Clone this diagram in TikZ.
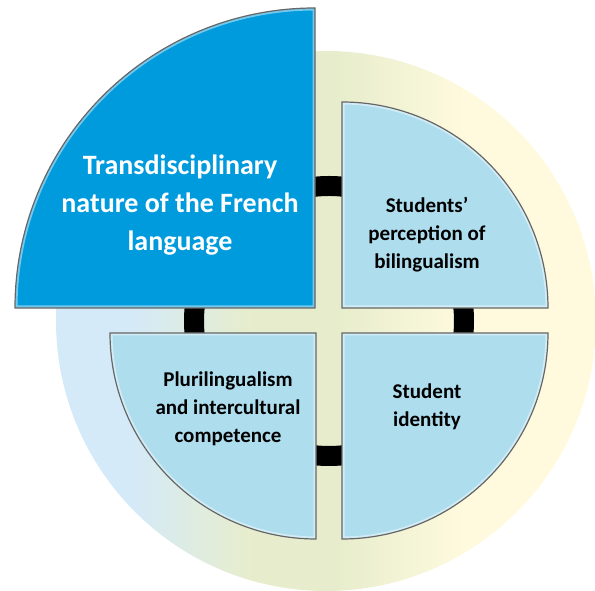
\documentclass[tikz,border=0pt]{standalone}
\usepackage{fontspec}
\setmainfont{Carlito}
\definecolor{deepblue}{RGB}{0,155,221}
\definecolor{paleblue}{RGB}{174,221,238}
\definecolor{bgblue}{RGB}{212,234,248}
\definecolor{bggreen}{RGB}{231,237,204}
\definecolor{bgcream}{RGB}{255,250,222}
\pgfdeclarehorizontalshading{bgshade}{100bp}{color(0bp)=(bgblue); color(32bp)=(bgblue);
    color(43bp)=(bggreen); color(51bp)=(bggreen); color(63bp)=(bgcream); color(100bp)=(bgcream)}
\newcommand{\drawquarter}[2]{%
    \fill[#1] #2;
    \begin{scope}
        \clip #2;
        \draw[white,opacity=0.45,line width=5pt] #2;
    \end{scope}
    \draw[black!60,line width=1.2pt] #2;}

\begin{document}
\begin{tikzpicture}[x=1pt,y=1pt,
    quartertext/.style={font=\bfseries\fontsize{21}{28}\selectfont,align=center}]
    \useasboundingbox (0,0) rectangle (595,591);
    \shade[shading=bgshade] (326,270) circle (270);
    \draw[line width=20pt] (329,270) circle (135);
    \drawquarter{deepblue}{(315,283) -- (15,283) arc[start angle=180,end angle=90,radius=300] -- cycle}
    \drawquarter{paleblue}{(342,283) -- (342,489) arc[start angle=90,end angle=0,radius=206] -- cycle}
    \drawquarter{paleblue}{(316,258) -- (110,258) arc[start angle=180,end angle=270,radius=206] -- cycle}
    \drawquarter{paleblue}{(342,258) -- (548,258) arc[start angle=0,end angle=-90,radius=206] -- cycle}
    \node[quartertext,text=white,font=\bfseries\fontsize{28}{38}\selectfont] (french) at (180,386) {Transdisciplinary\\nature of the French\\language};
    \node[quartertext] (perception) at (427,356) {Students’\\perception of\\bilingualism};
    \node[quartertext] (pluri) at (228,182) {Plurilingualism\\and intercultural\\competence};
    \node[quartertext] (identity) at (427,184) {Student\\identity};
\end{tikzpicture}
\end{document}
